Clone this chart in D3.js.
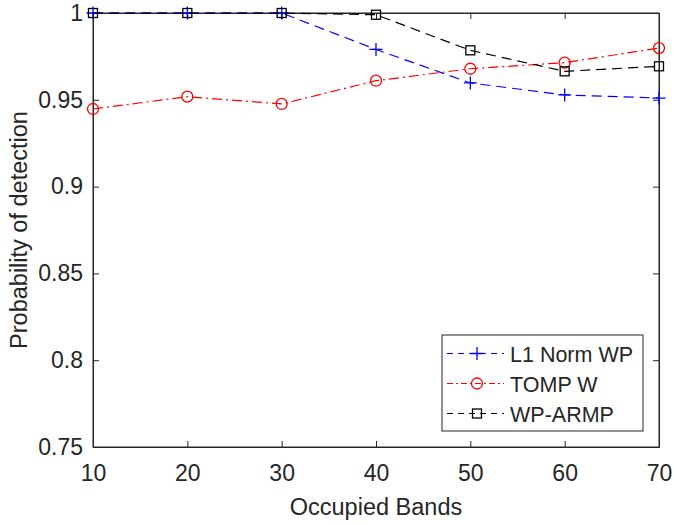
<!DOCTYPE html>
<html>
<head>
<meta charset="utf-8">
<script src="https://cdn.jsdelivr.net/npm/d3@7"></script>
<style>
body { margin: 0; background: #fff; }
text { font-family: "Liberation Sans", Arial, sans-serif; fill: #262626; }
</style>
</head>
<body>
<svg id="chart" width="674" height="524"></svg>
<script>
// data
var bands = [10, 20, 30, 40, 50, 60, 70];
var l1NormWP = [1, 1, 1, 0.979, 0.9597, 0.9528, 0.951];
var tompW = [0.9447, 0.9518, 0.9476, 0.961, 0.9679, 0.9714, 0.9798];
var wpArmp = [1, 1, 1, 0.999, 0.9785, 0.9664, 0.9693];
var xTicks = [10, 20, 30, 40, 50, 60, 70];
var yTicks = [0.75, 0.8, 0.85, 0.9, 0.95, 1];
var seriesNames = ['L1 Norm WP', 'TOMP W', 'WP-ARMP'];

var svg = d3.select('#chart');
var padding = {t: 13, r: 15, b: 77, l: 93};
var width = 674 - padding.l - padding.r;
var height = 524 - padding.t - padding.b;

var chartG = svg.append('g')
    .attr('transform', 'translate(' + [padding.l, padding.t] + ')');

var xScale = d3.scaleLinear().domain([10, 70]).range([0, width]);
var yScale = d3.scaleLinear().domain([0.75, 1]).range([height, 0]);

var axisColor = '#262626';
var tickLen = 6;

// box
chartG.append('rect')
    .attr('width', width).attr('height', height)
    .attr('fill', 'none').attr('stroke', axisColor).attr('stroke-width', 1);

// ticks on all four sides, pointing inward
var xG = chartG.append('g').attr('transform', 'translate(0,' + height + ')')
    .call(d3.axisBottom(xScale).tickValues(xTicks).tickSizeInner(-tickLen).tickSizeOuter(0).tickPadding(18));
var yG = chartG.append('g')
    .call(d3.axisLeft(yScale).tickValues(yTicks).tickSizeInner(-tickLen).tickSizeOuter(0).tickPadding(10)
        .tickFormat(function(d) { return d3.format('')(+d.toFixed(2)); }));
chartG.append('g')
    .call(d3.axisTop(xScale).tickValues(xTicks).tickSizeInner(-tickLen).tickSizeOuter(0).tickFormat(''));
chartG.append('g').attr('transform', 'translate(' + width + ',0)')
    .call(d3.axisRight(yScale).tickValues(yTicks).tickSizeInner(-tickLen).tickSizeOuter(0).tickFormat(''));

chartG.selectAll('.domain').attr('stroke', axisColor);
chartG.selectAll('.tick line').attr('stroke', axisColor);
chartG.selectAll('.tick text').attr('font-size', 23).attr('fill', axisColor)
    .style('font-family', '"Liberation Sans", Arial, sans-serif');

// axis labels
svg.append('text')
    .attr('x', padding.l + width / 2).attr('y', 515)
    .attr('text-anchor', 'middle').attr('font-size', 23.5)
    .text('Occupied Bands');
svg.append('text')
    .attr('transform', 'translate(27,' + (padding.t + height / 2) + ') rotate(-90)')
    .attr('text-anchor', 'middle').attr('font-size', 23.5)
    .text('Probability of detection');

var series = [
    {name: seriesNames[0], values: l1NormWP, color: '#0000ff', dash: '10,6', marker: 'plus'},
    {name: seriesNames[1], values: tompW, color: '#ff0000', dash: '10,4,2,4', marker: 'circle'},
    {name: seriesNames[2], values: wpArmp, color: '#000000', dash: '10,6', marker: 'square'}
];

var line = d3.line()
    .x(function(d, i) { return xScale(bands[i]); })
    .y(function(d) { return yScale(d); });

function drawMarker(g, type, x, y, color) {
    if (type === 'plus') {
        g.append('path').attr('d', 'M' + (x - 6.5) + ',' + y + 'H' + (x + 6.5) + 'M' + x + ',' + (y - 6.5) + 'V' + (y + 6.5))
            .attr('stroke', color).attr('stroke-width', 1.3).attr('fill', 'none');
    } else if (type === 'circle') {
        g.append('circle').attr('cx', x).attr('cy', y).attr('r', 5.5)
            .attr('stroke', color).attr('stroke-width', 1.3).attr('fill', 'none');
    } else {
        g.append('rect').attr('x', x - 4.5).attr('y', y - 4.5).attr('width', 9).attr('height', 9)
            .attr('stroke', color).attr('stroke-width', 1.3).attr('fill', 'none');
    }
}

series.forEach(function(s) {
    chartG.append('path')
        .datum(s.values)
        .attr('d', line)
        .attr('fill', 'none')
        .attr('stroke', s.color)
        .attr('stroke-width', 1.2)
        .attr('stroke-dasharray', s.dash);
    var mg = chartG.append('g');
    s.values.forEach(function(v, i) {
        drawMarker(mg, s.marker, xScale(bands[i]), yScale(v), s.color);
    });
});

// legend
var legend = svg.append('g').attr('transform', 'translate(442,335)');
legend.append('rect')
    .attr('width', 201).attr('height', 96)
    .attr('fill', '#fff').attr('stroke', axisColor).attr('stroke-width', 1);
series.forEach(function(s, i) {
    var y = 18.5 + i * 30;
    legend.append('line')
        .attr('x1', 5).attr('x2', 62).attr('y1', y).attr('y2', y)
        .attr('stroke', s.color).attr('stroke-width', 1.2)
        .attr('stroke-dasharray', s.marker === 'circle' ? '6,3,2,3' : '6,5');
    drawMarker(legend, s.marker, 35, y, s.color);
    legend.append('text')
        .attr('x', 68).attr('y', y + 8)
        .attr('font-size', 21.5).attr('fill', '#000')
        .text(s.name);
});
</script>
</body>
</html>
